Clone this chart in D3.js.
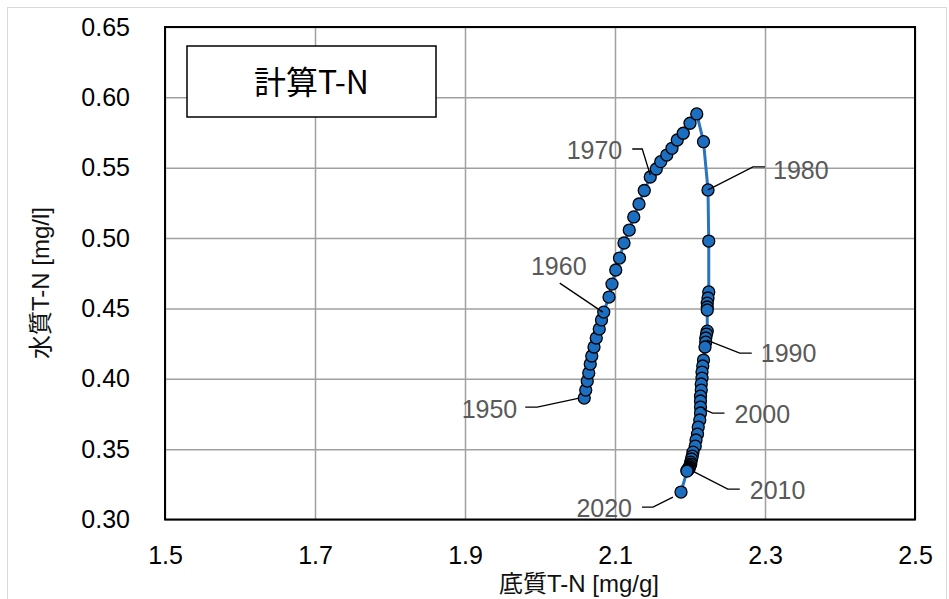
<!DOCTYPE html>
<html>
<head>
<meta charset="utf-8">
<script src="https://cdn.jsdelivr.net/npm/d3@7/dist/d3.min.js"></script>
<style>
  html, body { margin: 0; padding: 0; background: #fff; }
  svg { display: block; }
  text { font-family: "Liberation Sans", Arial, "Noto Sans CJK JP", sans-serif; }
</style>
</head>
<body>
<svg id="chart" width="949" height="599"></svg>
<script>
// Year of each computed state
const years = [
  1950, 1951, 1952, 1953, 1954, 1955, 1956, 1957, 1958, 1959,
  1960, 1961, 1962, 1963, 1964, 1965, 1966, 1967, 1968, 1969,
  1970, 1971, 1972, 1973, 1974, 1975, 1976, 1977, 1978, 1979,
  1980, 1981, 1982, 1983, 1984, 1985, 1986, 1987, 1988, 1989,
  1990, 1991, 1992, 1993, 1994, 1995, 1996, 1997, 1998, 1999,
  2000, 2001, 2002, 2003, 2004, 2005, 2006, 2007, 2008, 2009,
  2010, 2011, 2012, 2013, 2014, 2015, 2016, 2017, 2018, 2019,
  2020
];

// Sediment T-N [mg/g]
const sedimentTN = [
  2.059, 2.061, 2.063, 2.065, 2.067, 2.069, 2.072, 2.075, 2.079, 2.082,
  2.085, 2.092, 2.096, 2.101, 2.106, 2.112, 2.119, 2.125, 2.132, 2.139,
  2.147, 2.155, 2.161, 2.169, 2.176, 2.183, 2.191, 2.200, 2.209, 2.218,
  2.224, 2.225, 2.225, 2.224, 2.223, 2.223, 2.223, 2.223, 2.222, 2.221,
  2.221, 2.220, 2.218, 2.217, 2.216, 2.216, 2.215, 2.215, 2.214, 2.214,
  2.214, 2.214, 2.213, 2.211, 2.210, 2.208, 2.207, 2.204, 2.203, 2.202,
  2.201, 2.201, 2.200, 2.199, 2.199, 2.198, 2.197, 2.197, 2.196, 2.196,
  2.188
];

// Water T-N [mg/l]
const waterTN = [
  0.3863, 0.3920, 0.3984, 0.4041, 0.4105, 0.4162, 0.4226, 0.4290, 0.4354, 0.4418,
  0.4474, 0.4581, 0.4673, 0.4773, 0.4858, 0.4965, 0.5057, 0.5150, 0.5242, 0.5338,
  0.5434, 0.5491, 0.5543, 0.5590, 0.5638, 0.5697, 0.5745, 0.5816, 0.5882, 0.5685,
  0.5342, 0.4979, 0.4617, 0.4574, 0.4538, 0.4510, 0.4489, 0.4339, 0.4318, 0.4290,
  0.4261, 0.4226, 0.4133, 0.4091, 0.4048, 0.4005, 0.3963, 0.3920, 0.3877, 0.3842,
  0.3799, 0.3757, 0.3707, 0.3657, 0.3607, 0.3565, 0.3522, 0.3479, 0.3451, 0.3430,
  0.3408, 0.3394, 0.3383, 0.3373, 0.3366, 0.3359, 0.3355, 0.3351, 0.3348, 0.3344,
  0.3195
];

// Axis ticks
const xTicks = [1.5, 1.7, 1.9, 2.1, 2.3, 2.5];
const yTicks = [0.30, 0.35, 0.40, 0.45, 0.50, 0.55, 0.60, 0.65];

// Texts
const chartTitle = "計算T-N";
const xTitle = "底質T-N [mg/g]";
const yTitle = "水質T-N [mg/l]";

// Years that get a callout label
const labelYears = [1950, 1960, 1970, 1980, 1990, 2000, 2010, 2020];

// Callout layout, in pixel offsets from the marker centre:
// leader polyline points, then the text anchor point
const calloutLayout = {
  1950: { leader: [[-5, 0], [-47, 9], [-59, 9]],   text: [-67, 11], anchor: "end" },
  1960: { leader: [[-1, 0], [-44, -29]],           text: [-45, -46], anchor: "middle" },
  1970: { leader: [[0, -2], [-8, -28], [-18, -28]], text: [-28, -27], anchor: "end" },
  1980: { leader: [[0, 0], [45, -23], [57, -23]],  text: [65, -20], anchor: "start" },
  1990: { leader: [[1, -2], [34, 11], [46, 11]],   text: [55, 11], anchor: "start" },
  2000: { leader: [[3, 2], [12, 6], [24, 6]],      text: [34, 7], anchor: "start" },
  2010: { leader: [[2, 9], [37, 27], [49, 27]],    text: [59, 28], anchor: "start" },
  2020: { leader: [[-8, 5], [-28, 15], [-39, 15]], text: [-49, 16], anchor: "end" }
};

const svg = d3.select("#chart");
const W = 949, H = 599;
const plot = { left: 165, right: 915, top: 27, bottom: 519.5 };

const x = d3.scaleLinear().domain([1.5, 2.5]).range([plot.left, plot.right]);
const y = d3.scaleLinear().domain([0.30, 0.65]).range([plot.bottom, plot.top]);

// Background and outer chart frame
svg.append("rect").attr("width", W).attr("height", H).attr("fill", "#fff");
svg.append("rect")
  .attr("x", 7.5).attr("y", 7.5)
  .attr("width", 939).attr("height", 620)
  .attr("fill", "none").attr("stroke", "#d9d9d9").attr("stroke-width", 1);

// Gridlines
const grid = svg.append("g").attr("class", "grid");
grid.append("g")
  .attr("transform", `translate(0,${plot.bottom})`)
  .call(d3.axisBottom(x).tickValues(xTicks).tickSize(-(plot.bottom - plot.top)).tickFormat(""))
  .call(g => g.select(".domain").remove());
grid.append("g")
  .attr("transform", `translate(${plot.left},0)`)
  .call(d3.axisLeft(y).tickValues(yTicks).tickSize(-(plot.right - plot.left)).tickFormat(""))
  .call(g => g.select(".domain").remove());
grid.selectAll("line").attr("stroke", "#a0a0a0").attr("stroke-width", 1.5);

// Tick labels
const xAxis = svg.append("g")
  .attr("transform", `translate(0,${plot.bottom})`)
  .call(d3.axisBottom(x).tickValues(xTicks).tickSize(0).tickPadding(27).tickFormat(d3.format(".1f")));
xAxis.select(".domain").remove();
xAxis.selectAll("text").attr("font-size", 25).attr("fill", "#000")
  .style("font-family", "'Liberation Sans', Arial, sans-serif");

const yAxis = svg.append("g")
  .attr("transform", `translate(${plot.left},0)`)
  .call(d3.axisLeft(y).tickValues(yTicks).tickSize(0).tickPadding(35).tickFormat(d3.format(".2f")));
yAxis.select(".domain").remove();
yAxis.selectAll("text").attr("font-size", 25).attr("fill", "#000")
  .style("font-family", "'Liberation Sans', Arial, sans-serif");

// Plot area border
svg.append("rect")
  .attr("x", plot.left).attr("y", plot.top)
  .attr("width", plot.right - plot.left).attr("height", plot.bottom - plot.top)
  .attr("fill", "none").attr("stroke", "#000").attr("stroke-width", 2);

// Title box
const tb = { x: 187, y: 46, w: 249, h: 71 };
svg.append("rect")
  .attr("x", tb.x).attr("y", tb.y).attr("width", tb.w).attr("height", tb.h)
  .attr("fill", "#fff").attr("stroke", "#000").attr("stroke-width", 1.5);
svg.append("text")
  .attr("x", tb.x + tb.w / 2).attr("y", tb.y + tb.h / 2 + 12)
  .attr("text-anchor", "middle")
  .attr("font-size", 32).attr("fill", "#000")
  .style("font-family", "'Noto Sans CJK JP', 'Liberation Sans', sans-serif")
  .text(chartTitle);

// Series
const pts = years.map((yr, i) => ({ year: yr, sx: sedimentTN[i], wy: waterTN[i] }));

svg.append("path")
  .datum(pts)
  .attr("fill", "none")
  .attr("stroke", "#2a74bd")
  .attr("stroke-width", 3)
  .attr("stroke-linejoin", "round")
  .attr("d", d3.line().x(d => x(d.sx)).y(d => y(d.wy)));

svg.append("g").selectAll("circle")
  .data(pts)
  .join("circle")
  .attr("cx", d => x(d.sx))
  .attr("cy", d => y(d.wy))
  .attr("r", 6)
  .attr("fill", "#1c6fc0")
  .attr("stroke", "#000")
  .attr("stroke-width", 1.3);

// Year callouts
const callouts = svg.append("g");
labelYears.forEach(yr => {
  const p = pts.find(d => d.year === yr);
  const cx = x(p.sx), cy = y(p.wy);
  const lay = calloutLayout[yr];
  callouts.append("polyline")
    .attr("points", lay.leader.map(o => [cx + o[0], cy + o[1]].join(",")).join(" "))
    .attr("fill", "none").attr("stroke", "#000").attr("stroke-width", 1.3);
  callouts.append("text")
    .attr("x", cx + lay.text[0]).attr("y", cy + lay.text[1])
    .attr("dy", "0.36em")
    .attr("text-anchor", lay.anchor)
    .attr("font-size", 25).attr("fill", "#595959")
    .text(yr);
});

// Axis titles
svg.append("text")
  .attr("x", 579).attr("y", 592)
  .attr("text-anchor", "middle")
  .attr("font-size", 24).attr("fill", "#111")
  .text(xTitle);

svg.append("text")
  .attr("transform", "translate(49,283) rotate(-90)")
  .attr("text-anchor", "middle")
  .attr("font-size", 24).attr("fill", "#111")
  .text(yTitle);
</script>
</body>
</html>
